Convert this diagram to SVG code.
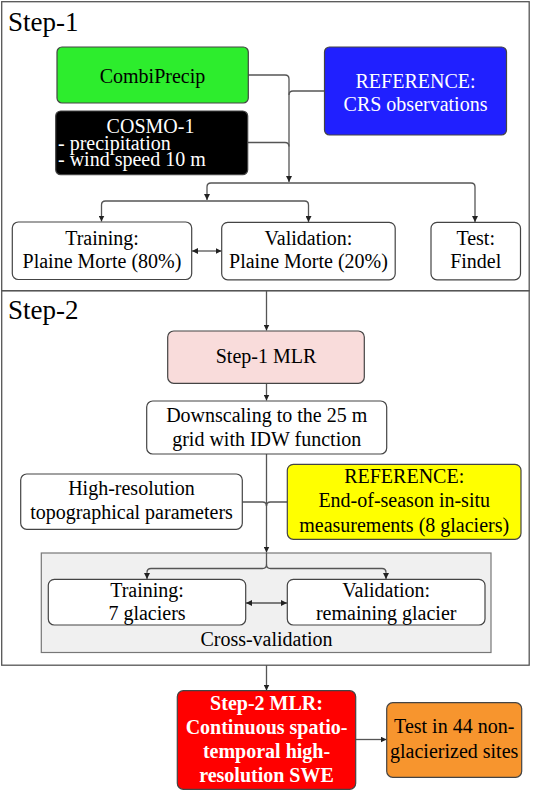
<svg xmlns="http://www.w3.org/2000/svg" width="533" height="791" viewBox="0 0 533 791">
<defs>
<marker id="ah" markerUnits="userSpaceOnUse" markerWidth="7" markerHeight="6" refX="6" refY="3" orient="auto-start-reverse">
<path d="M0,0 L6,3 L0,6 z" fill="#222"/>
</marker>
<style>
text{font-size:20px;fill:#000;text-anchor:middle}
.title{font-size:27px;text-anchor:start}
.w{fill:#fff}
.b{font-weight:bold}
.l{text-anchor:start}
.box{stroke:#444;stroke-width:1.2}
.frame{fill:none;stroke:#555;stroke-width:1.3}
.c{fill:none;stroke:#555;stroke-width:1.3}
.ca{fill:none;stroke:#555;stroke-width:1.3;marker-end:url(#ah)}
.cd{fill:none;stroke:#555;stroke-width:1.3;marker-start:url(#ah);marker-end:url(#ah)}
</style>
</defs>
<rect width="533" height="791" fill="#fff"/>
<g font-family="Liberation Serif, serif">
<g id="frames">
<rect class="frame" x="1.7" y="1.7" width="527.5" height="289"/>
<rect class="frame" x="1.7" y="290.7" width="527.5" height="374.5"/>
<text class="title" x="8" y="31">Step-1</text>
<text class="title" x="8" y="318.5">Step-2</text>
</g>
<g id="cross-validation">
<rect x="41.3" y="553" width="449.7" height="99.5" fill="#f0f0f0" stroke="#777" stroke-width="1.2"/>
<text x="266.5" y="645.5">Cross-validation</text>
</g>
<g id="connectors">
<path class="ca" d="M248,75 H285 Q289,75 289,79 V182"/>
<path class="c" d="M325,91 H293 Q289,91 289,95"/>
<path class="c" d="M248,142.5 H285 Q289,142.5 289,146.5"/>
<path class="ca" d="M207,187 V200"/>
<path class="ca" d="M475,187 V222"/>
<path class="c" d="M207,187 Q207,183 211,183 H471 Q475,183 475,187"/>
<path class="ca" d="M101.5,205 V221.5"/>
<path class="ca" d="M308.5,205 V222"/>
<path class="c" d="M101.5,205 Q101.5,201 105.5,201 H304.5 Q308.5,201 308.5,205"/>
<path class="cd" d="M192,251 H221.5"/>
<path class="ca" d="M266.5,291 V330.5"/>
<path class="ca" d="M266.5,383.5 V400.5"/>
<path class="ca" d="M266.5,454 V552.5"/>
<path class="c" d="M242.3,502 H262.5 Q266.5,502 266.5,506"/>
<path class="c" d="M287.3,502 H270.5 Q266.5,502 266.5,506"/>
<path class="c" d="M266.5,553 V564.5 Q266.5,568.5 262.5,568.5 H151 Q147,568.5 147,572.5"/>
<path class="c" d="M266.5,564.5 Q266.5,568.5 270.5,568.5 H382 Q386,568.5 386,572.5"/>
<path class="ca" d="M147,572.5 V579"/>
<path class="ca" d="M386,572.5 V579"/>
<path class="cd" d="M246,603 H287"/>
<path class="ca" d="M266.5,665 V690.5"/>
<path class="ca" d="M355.7,739.5 H386.5"/>
</g>
<g id="combiprecip">
<rect class="box" x="57" y="47" width="191.3" height="56" rx="5" fill="#2ded2d"/>
<text x="152.5" y="83">CombiPrecip</text>
</g>
<g id="reference-crs">
<rect class="box" x="324.5" y="47" width="182" height="88" rx="5" fill="#2020ff"/>
<text class="w" x="415.5" y="87.5">REFERENCE:</text>
<text class="w" x="415.5" y="110.5">CRS observations</text>
</g>
<g id="cosmo1">
<rect class="box" x="55.7" y="111" width="192" height="63.7" rx="5" fill="#000"/>
<text class="w" x="150.5" y="133.3">COSMO-1</text>
<text class="w l" x="58" y="150">- precipitation</text>
<text class="w l" x="58" y="166">- wind speed 10 m</text>
</g>
<g id="training-pm">
<rect class="box" x="12.3" y="222" width="179.4" height="57.5" rx="6" fill="#fff"/>
<text x="102" y="245">Training:</text>
<text x="102" y="268">Plaine Morte (80%)</text>
</g>
<g id="validation-pm">
<rect class="box" x="221.7" y="222.3" width="173.5" height="57.5" rx="6" fill="#fff"/>
<text x="308.5" y="245">Validation:</text>
<text x="308.5" y="268">Plaine Morte (20%)</text>
</g>
<g id="test-findel">
<rect class="box" x="431" y="222.3" width="89.5" height="57.5" rx="6" fill="#fff"/>
<text x="475.7" y="245">Test:</text>
<text x="475.7" y="268">Findel</text>
</g>
<g id="step1-mlr">
<rect class="box" x="167.7" y="331" width="196.6" height="52.3" rx="6" fill="#f9dcdb"/>
<text x="266" y="363.3">Step-1 MLR</text>
</g>
<g id="downscaling">
<rect class="box" x="146.7" y="401" width="240" height="53" rx="6" fill="#fff"/>
<text x="266.7" y="421.7">Downscaling to the 25 m</text>
<text x="266.7" y="445.7">grid with IDW function</text>
</g>
<g id="high-res">
<rect class="box" x="20.7" y="474" width="221.6" height="55.3" rx="6" fill="#fff"/>
<text x="131.5" y="495">High-resolution</text>
<text x="131.5" y="519.3">topographical parameters</text>
</g>
<g id="reference-insitu">
<rect class="box" x="287.3" y="464.3" width="233.7" height="75" rx="6" fill="#ffff00"/>
<text x="404.2" y="483.3">REFERENCE:</text>
<text x="404.2" y="507.3">End-of-season in-situ</text>
<text x="404.2" y="531.7">measurements (8 glaciers)</text>
</g>
<g id="training-7">
<rect class="box" x="48.3" y="579.3" width="197.4" height="45.7" rx="6" fill="#fff"/>
<text x="147" y="596.7">Training:</text>
<text x="147" y="620">7 glaciers</text>
</g>
<g id="validation-rem">
<rect class="box" x="287.3" y="579.3" width="197.7" height="45.7" rx="6" fill="#fff"/>
<text x="386.2" y="596.7">Validation:</text>
<text x="386.2" y="619.5">remaining glacier</text>
</g>
<g id="step2-mlr">
<rect class="box" x="177.3" y="690.7" width="178.4" height="98.6" rx="6" fill="#ff0000"/>
<text class="w b" x="266.5" y="710">Step-2 MLR:</text>
<text class="w b" x="266.5" y="734">Continuous spatio-</text>
<text class="w b" x="266.5" y="758">temporal high-</text>
<text class="w b" x="266.5" y="782">resolution SWE</text>
</g>
<g id="test-44">
<rect class="box" x="386.7" y="702.7" width="135" height="74.6" rx="6" fill="#f7952e"/>
<text x="454.2" y="733.3">Test in 44 non-</text>
<text x="454.2" y="758.3">glacierized sites</text>
</g>
</g>
</svg>
